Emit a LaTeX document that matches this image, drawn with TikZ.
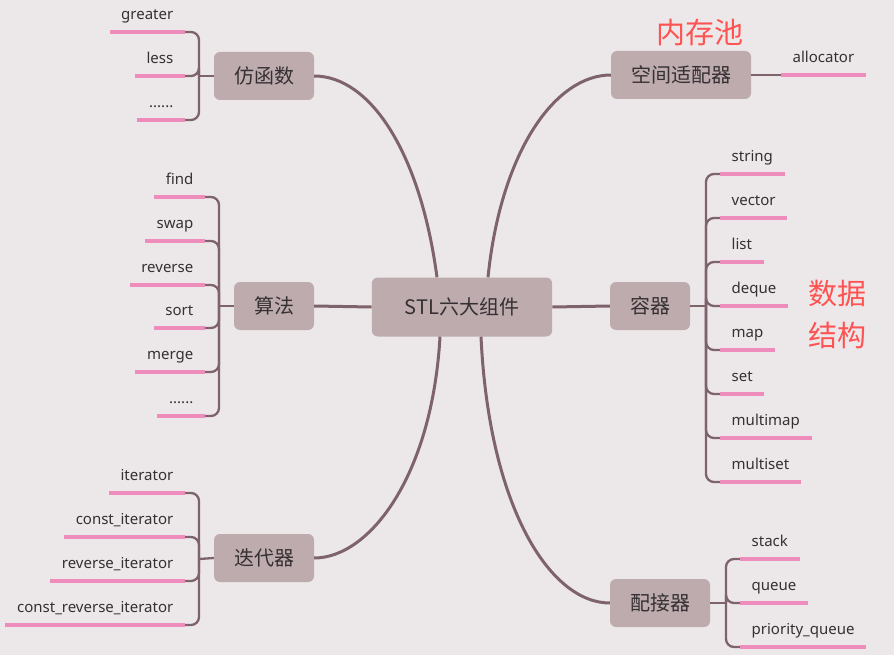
\documentclass[tikz,border=0pt]{standalone}
\usepackage{fontspec}
\setmainfont{Noto Sans}
\newfontfamily\cjk{Noto Sans CJK SC}

\definecolor{bg}{HTML}{ECE8E9}
\definecolor{boxfill}{HTML}{BDABAE}
\definecolor{limbc}{HTML}{7E636A}
\definecolor{pinkline}{HTML}{EE8DBB}
\definecolor{inkc}{HTML}{353033}
\definecolor{notec}{HTML}{FF5252}

\tikzset{
  hub/.style={fill=boxfill, rounded corners=6pt, text=inkc, font=\cjk\fontsize{20}{24}\selectfont,
    minimum height=48pt, inner xsep=20pt},
  leafL/.style={anchor=south east, text=inkc, font=\fontsize{15}{18}\selectfont,
    inner xsep=11.5pt, inner ysep=0pt, text depth=12.5pt},
  leafR/.style={leafL, anchor=south west},
  limb/.style={draw=limbc, line width=3pt},
  twig/.style={draw=limbc, line width=2.3pt, rounded corners=8pt},
  uline/.style={draw=pinkline, line width=3.2pt},
  note/.style={text=notec, font=\cjk\fontsize{29}{42}\selectfont, align=center}
}
\newcommand\etcdots{......}

\begin{document}
\begin{tikzpicture}[x=1pt,y=-1pt]
\fill[bg] (0,0) rectangle (894,655);
\useasboundingbox (0,0) rectangle (894,655);

% centre and the six parts
\node[hub, inner xsep=33pt, minimum height=59pt] (stl) at (462,307) {STL六大组件};
\node[hub] (func) at (264,76) {仿函数};
\node[hub] (alloc) at (681,75) {空间适配器};
\node[hub] (algo) at (274,306) {算法};
\node[hub] (cont) at (650,306) {容器};
\node[hub] (iter) at (264,558) {迭代器};
\node[hub] (adap) at (660,603) {配接器};

\draw[limb] ([xshift=-25pt]stl.north) .. controls +(-17,-127) and +(55,0) .. (func.east);
\draw[limb] ([xshift=26pt]stl.north) .. controls +(13,-127) and +(-55,0) .. (alloc.west);
\draw[limb] ([xshift=-22pt]stl.south) .. controls +(-8,140) and +(55,0) .. (iter.east);
\draw[limb] ([xshift=19pt]stl.south) .. controls +(8,170) and +(-60,0) .. (adap.west);
\draw[limb] (stl.west) -- (algo.east);
\draw[limb] (stl.east) -- (cont.west);

% brackets
\coordinate (funJ) at (199,76);
\coordinate (algJ) at (219,306);
\coordinate (itJ) at (199,559);
\coordinate (conJ) at (706,306);
\coordinate (adJ) at (726,603);
\draw[twig] (func.west) -- (funJ);
\draw[twig] (algo.west) -- (algJ);
\draw[twig] (iter.west) -- (itJ);
\draw[twig] (cont.east) -- (conJ);
\draw[twig] (adap.east) -- (adJ);

% leaves
\foreach \t/\y [count=\i] in {greater/32, less/76, \etcdots/120} {
  \node[leafL] (fun\i) at (185,\y) {\t};
  \draw[twig] (funJ) |- (fun\i.south east);
  \draw[uline] (fun\i.south west) -- (fun\i.south east);
}
\foreach \t/\y [count=\i] in {find/197, swap/241, reverse/285, sort/328, merge/372, \etcdots/416} {
  \node[leafL] (alg\i) at (205,\y) {\t};
  \draw[twig] (algJ) |- (alg\i.south east);
  \draw[uline] (alg\i.south west) -- (alg\i.south east);
}
\foreach \t/\y [count=\i] in {iterator/493, const\_iterator/537, reverse\_iterator/581,
    const\_reverse\_iterator/625} {
  \node[leafL] (it\i) at (185,\y) {\t};
  \draw[twig] (itJ) |- (it\i.south east);
  \draw[uline] (it\i.south west) -- (it\i.south east);
}
\foreach \t/\y [count=\i] in {string/174, vector/218, list/262, deque/306, map/350,
    set/394, multimap/438, multiset/482} {
  \node[leafR] (con\i) at (720,\y) {\t};
  \draw[twig] (conJ) |- (con\i.south west);
  \draw[uline] (con\i.south west) -- (con\i.south east);
}
\foreach \t/\y [count=\i] in {stack/559, queue/603, priority\_queue/647} {
  \node[leafR] (ad\i) at (740,\y) {\t};
  \draw[twig] (adJ) |- (ad\i.south west);
  \draw[uline] (ad\i.south west) -- (ad\i.south east);
}
\node[leafR] (allocator) at (781,75) {allocator};
\draw[twig] (alloc.east) -- (allocator.south west);
\draw[uline] (allocator.south west) -- (allocator.south east);

% red notes
\node[note] (pool) at (700,33) {内存池};
\node[note] (ds) at (837,314) {数据\\结构};
\end{tikzpicture}
\end{document}
